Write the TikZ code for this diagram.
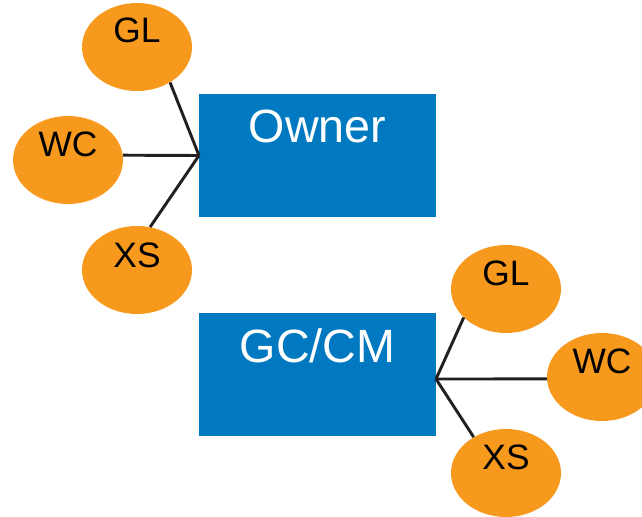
\documentclass[tikz,border=0pt]{standalone}
\usepackage{fontspec}
\setmainfont{Liberation Sans}
\usetikzlibrary{shapes.geometric,backgrounds}
\definecolor{boxblue}{RGB}{0,121,193}
\definecolor{bubble}{RGB}{247,153,29}
\definecolor{wire}{RGB}{35,31,32}
\begin{document}
\begin{tikzpicture}[x=0.75pt,y=-0.75pt,
  role/.style={draw=none,fill=boxblue,rectangle,minimum width=177.75pt,minimum height=92.25pt,inner sep=0pt},
  roletext/.style={anchor=base,text=white,font=\fontsize{35}{40}\selectfont,inner sep=0pt},
  party/.style={draw=none,fill=bubble,ellipse,minimum width=82.5pt,minimum height=66pt,inner sep=0pt},
  partytext/.style={anchor=base,text=black,font=\fontsize{26.5}{30}\selectfont,inner sep=0pt},
  link/.style={draw=wire,line width=2.2pt}]
\useasboundingbox (0,0) rectangle (642,517);
\clip (0,0) rectangle (642,517);

% the two role boxes
\node[role] (owner) at (317.5,155.5) {};
\node[roletext] (ownertxt) at (317.5,142) {Owner};
\node[role] (gccm) at (317.5,374.5) {};
\node[roletext] (gccmtxt) at (317.5,362) {GC/CM};

% hubs where the connectors meet
\coordinate (hubA) at (199,155.5);
\coordinate (hubB) at (436,379);

% insurance bubbles
\node[party] (glA) at (137,47) {};
\node[party] (wcA) at (68,160) {};
\node[party] (xsA) at (137,270) {};
\node[party] (glB) at (506,289) {};
\node[party] (wcB) at (602,377) {};
\node[party] (xsB) at (506,473) {};

\node[partytext] (glAt) at (137,43) {GL};
\node[partytext] (wcAt) at (68,156) {WC};
\node[partytext] (xsAt) at (137,267) {XS};
\node[partytext] (glBt) at (506,285) {GL};
\node[partytext] (wcBt) at (602,373) {WC};
\node[partytext] (xsBt) at (506,469) {XS};

% connectors
\draw[link] (hubA) -- (glA.-47);
\draw[link] (hubA) -- (wcA.5);
\draw[link] (hubA) -- (xsA.73);
\draw[link] (hubB) -- (glB.-146);
\draw[link] (hubB) -- (wcB.-178);
\draw[link] (hubB) -- (xsB.132);
\end{tikzpicture}
\end{document}
